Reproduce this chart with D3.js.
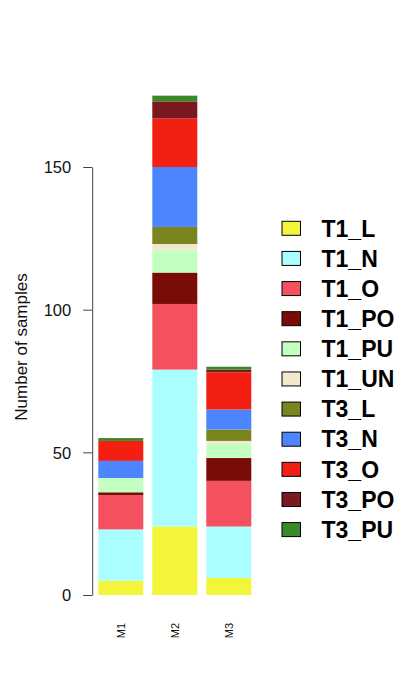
<!DOCTYPE html>
<html>
<head>
<meta charset="utf-8">
<script src="https://cdn.jsdelivr.net/npm/d3@7"></script>
<style>
  html, body { margin: 0; padding: 0; background: #ffffff; }
  svg { display: block; }
  text { font-family: "Liberation Sans", Arial, Helvetica, sans-serif; }
</style>
</head>
<body>
<svg id="chart" width="401" height="684"></svg>
<script>
const samples = ["M1", "M2", "M3"];
const groups = ["T1_L", "T1_N", "T1_O", "T1_PO", "T1_PU", "T1_UN", "T3_L", "T3_N", "T3_O", "T3_PO", "T3_PU"];
const colors = ["#F2F53A", "#AAFEFF", "#F5505E", "#7A0C08", "#C3FFC0", "#F3E7CF", "#7B8520", "#4C85FF", "#F21F12", "#7A1A20", "#3A8A2A"];
// counts per group, in sample order M1, M2, M3
const T1_L  = [5, 24, 6];
const T1_N  = [18, 55, 18];
const T1_O  = [12, 23, 16];
const T1_PO = [1, 11, 8];
const T1_PU = [5, 8, 5];
const T1_UN = [0, 2, 1];
const T3_L  = [0, 6, 4];
const T3_N  = [6, 21, 7];
const T3_O  = [7, 17, 13];
const T3_PO = [0, 6, 1];
const T3_PU = [1, 2, 1];
const yTicks = [0, 50, 100, 150];
const yLabel = "Number of samples";

const series = [T1_L, T1_N, T1_O, T1_PO, T1_PU, T1_UN, T3_L, T3_N, T3_O, T3_PO, T3_PU];
const table = samples.map((s, i) => {
  const row = { sample: s };
  groups.forEach((g, j) => { row[g] = series[j][i]; });
  return row;
});

const svg = d3.select("#chart");
const y = d3.scaleLinear().domain([0, 150]).range([595, 167]);
const x = d3.scaleBand().domain(samples).range([98.3, 251.3]).paddingInner(1 / 6).paddingOuter(0);
const color = d3.scaleOrdinal().domain(groups).range(colors);

const stacked = d3.stack().keys(groups)(table);

svg.append("g").selectAll("g")
  .data(stacked)
  .join("g")
  .attr("fill", d => color(d.key))
  .selectAll("rect")
  .data(d => d)
  .join("rect")
  .attr("x", d => x(d.data.sample))
  .attr("width", x.bandwidth())
  .attr("y", d => y(d[1]))
  .attr("height", d => y(d[0]) - y(d[1]));

// y axis
const axisX = 92.2;
const yAxis = svg.append("g")
  .attr("transform", `translate(${axisX},0)`)
  .call(d3.axisLeft(y).tickValues(yTicks).tickSize(9).tickSizeOuter(0).tickPadding(12).tickFormat(d3.format("d")));
yAxis.select(".domain").attr("stroke", "#444");
yAxis.selectAll(".tick line").attr("stroke", "#444");
yAxis.selectAll(".tick text")
  .attr("fill", "#111")
  .style("font-size", "16.5px")
  .attr("dy", "0.36em");

svg.append("text")
  .attr("transform", `translate(27,347) rotate(-90)`)
  .attr("text-anchor", "middle")
  .style("font-size", "17px")
  .attr("fill", "#111")
  .text(yLabel);

// x labels (rotated)
svg.append("g").selectAll("text")
  .data(samples)
  .join("text")
  .attr("transform", d => `translate(${x(d) + x.bandwidth() / 2 + 4},623) rotate(-90)`)
  .attr("text-anchor", "end")
  .style("font-size", "11px")
  .attr("fill", "#111")
  .text(d => d);

// legend
const leg = svg.append("g");
const rowY = d3.scaleLinear().domain([0, groups.length - 1]).range([228.3, 529.6]);
const legRows = leg.selectAll("g").data(groups).join("g")
  .attr("transform", (d, i) => `translate(0,${rowY(i)})`);
legRows.append("rect")
  .attr("x", 282).attr("y", -7).attr("width", 18.5).attr("height", 14)
  .attr("fill", d => color(d))
  .attr("stroke", "#000").attr("stroke-width", 1);
legRows.append("text")
  .attr("x", 321.5).attr("y", 0).attr("dy", "0.36em")
  .style("font-size", "23px").style("font-weight", "bold")
  .attr("fill", "#000")
  .text(d => d);
</script>
</body>
</html>
